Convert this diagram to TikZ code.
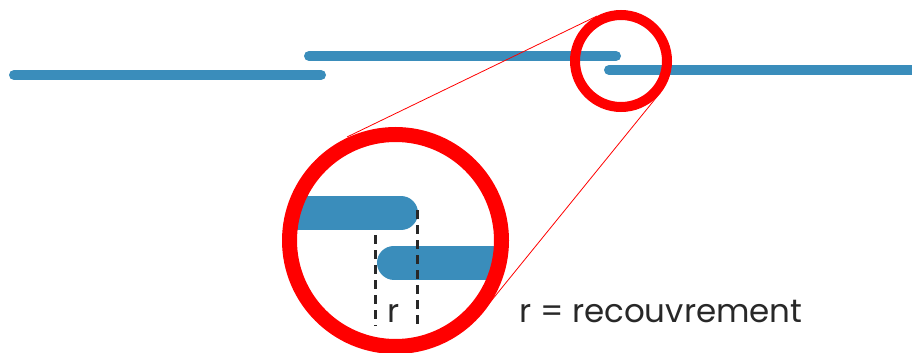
\documentclass[tikz,border=0pt]{standalone}
\usepackage{fontspec}
\setmainfont{Poppins}
\definecolor{barblue}{RGB}{58,141,187}
\definecolor{ringred}{RGB}{255,0,0}
\definecolor{txt}{RGB}{40,40,40}
\tikzset{
  bar/.style={barblue, line width=10pt, line cap=round},
  bigbar/.style={barblue, line width=34pt, line cap=round},
  ring/.style={draw=ringred, line width=#1},
  tangentline/.style={ringred, line width=0.8pt},
  measure/.style={txt, line width=2.6pt, dash pattern=on 9pt off 6pt},
  lbl/.style={txt, font=\fontsize{32.5}{39}\selectfont, inner sep=0pt}
}
\begin{document}
\begin{tikzpicture}[x=1pt,y=-1pt]
\useasboundingbox (0,0) rectangle (912,353);
\clip (0,0) rectangle (912,353);
% top bars
\coordinate (a1) at (14,75);   \coordinate (a2) at (321,75);
\coordinate (b1) at (309,56);  \coordinate (b2) at (616,56);
\coordinate (c1) at (609,70);  \coordinate (c2) at (930,70);
\draw[bar] (a1) -- (a2);
\draw[bar] (b1) -- (b2);
\draw[bar] (c1) -- (c2);
% circle centres and tangent points
\coordinate (small) at (621,61);
\coordinate (big) at (395.5,240.5);
\coordinate (t1) at (347,137);
\coordinate (t2) at (597,16);
\coordinate (t3) at (483,311);
\coordinate (t4) at (660,93);
\draw[tangentline] (t1) -- (t2);
\draw[tangentline] (t3) -- (t4);
% magnified bars
\begin{scope}
\clip (big) circle (106);
\coordinate (d1) at (260,213); \coordinate (d2) at (401,213);
\coordinate (e1) at (394,262.5); \coordinate (e2) at (540,262.5);
\draw[bigbar] (d1) -- (d2);
\draw[bigbar] (e1) -- (e2);
\end{scope}
% rings
\draw[ring=10pt] (small) circle (46);
\draw[ring=15pt] (big) circle (106);
% overlap measure
\coordinate (m1) at (375.5,235); \coordinate (m2) at (375.5,326);
\coordinate (n1) at (417.5,210); \coordinate (n2) at (417.5,326);
\draw[measure] (m1) -- (m2);
\draw[measure] (n1) -- (n2);
\node[lbl, anchor=base] (r) at (394,322) {r};
\node[lbl, anchor=base west] (legend) at (519,322) {r = recouvrement};
\end{tikzpicture}
\end{document}
